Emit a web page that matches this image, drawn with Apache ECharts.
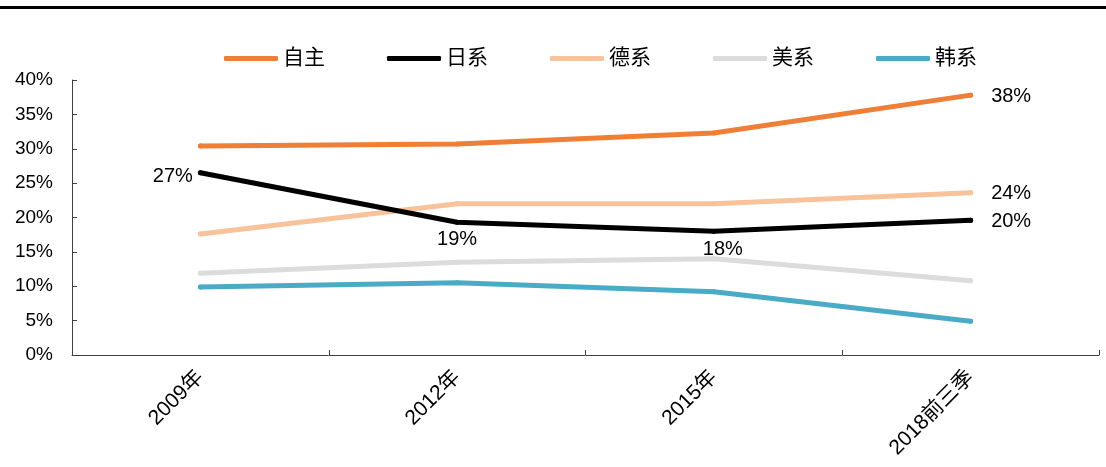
<!DOCTYPE html>
<html>
<head>
<meta charset="utf-8">
<script src="https://cdn.jsdelivr.net/npm/echarts@6/dist/echarts.min.js"></script>
<style>
  html, body { margin: 0; padding: 0; background: #fff; }
  #chart { width: 1106px; height: 467px; }
</style>
</head>
<body>
<div id="chart"></div>
<script>
// Market share by brand origin (%)
const categories = ['2009年', '2012年', '2015年', '2018前三季'];
const seriesNames = ['自主', '日系', '德系', '美系', '韩系'];
const domestic = [30.4, 30.7, 32.3, 37.8];
const japanese = [26.5, 19.3, 18.0, 19.6];
const german   = [17.6, 22.0, 22.0, 23.6];
const american = [11.9, 13.5, 14.0, 10.8];
const korean   = [9.9, 10.5, 9.2, 4.9];
const yTicks = { min: 0, max: 40, interval: 5 };

const FONT = "'Liberation Sans', 'Noto Sans CJK SC', sans-serif";
const colors = ['#EF7E36', '#000000', '#F8C29A', '#DCDCDC', '#4AABC6'];

// Per-point label placement: index -> label options
function withLabels(values, placements) {
  return values.map((v, i) => {
    const p = placements[i];
    if (!p) return { value: v, label: { show: false } };
    return {
      value: v,
      label: Object.assign({
        show: true,
        color: '#000',
        fontSize: 20,
        fontFamily: FONT,
        formatter: (d) => Math.round(d.value) + '%'
      }, p)
    };
  });
}

const seriesValues = [
  withLabels(domestic, { 3: { position: 'right', distance: 18, offset: [0, 1] } }),
  withLabels(japanese, {
    0: { position: 'left', distance: 5, offset: [0, 4] },
    1: { position: 'bottom', distance: 5 },
    2: { position: 'bottom', distance: 6, offset: [9, 0] },
    3: { position: 'right', distance: 18, offset: [0, 1] }
  }),
  withLabels(german, { 3: { position: 'right', distance: 18, offset: [0, 1] } }),
  withLabels(american, {}),
  withLabels(korean, {})
];

const chart = echarts.init(document.getElementById('chart'), null, { renderer: 'canvas' });

chart.setOption({
  animation: false,
  backgroundColor: '#fff',
  textStyle: { fontFamily: FONT },
  graphic: [
    { type: 'rect', left: 0, top: 6, shape: { width: 1106, height: 3 }, style: { fill: '#000' } }
  ],
  legend: {
    top: 43,
    left: 219,
    itemGap: 62,
    itemWidth: 54,
    itemHeight: 5,
    icon: 'roundRect',
    textStyle: { fontSize: 21, color: '#000', fontFamily: FONT },
    data: seriesNames
  },
  grid: { left: 72, right: 7, top: 80, bottom: 112, containLabel: false },
  xAxis: {
    type: 'category',
    data: categories,
    boundaryGap: true,
    axisLine: { lineStyle: { color: '#404040', width: 1 } },
    axisTick: { show: true, inside: true, length: 5, lineStyle: { color: '#404040' } },
    axisLabel: { rotate: 45, fontSize: 21, color: '#000', margin: 19, fontFamily: FONT },
    splitLine: { show: false }
  },
  yAxis: {
    type: 'value',
    min: yTicks.min,
    max: yTicks.max,
    interval: yTicks.interval,
    axisLine: { show: true, lineStyle: { color: '#404040', width: 1 } },
    axisTick: { show: true, inside: true, length: 5, lineStyle: { color: '#404040' } },
    axisLabel: { formatter: '{value}%', fontSize: 19, color: '#000', margin: 19, fontFamily: FONT },
    splitLine: { show: false }
  },
  series: seriesNames.map((name, i) => ({
    name: name,
    type: 'line',
    data: seriesValues[i],
    symbol: 'circle',
    symbolSize: 5,
    itemStyle: { color: colors[i] },
    lineStyle: { color: colors[i], width: 5, cap: 'round', join: 'round' },
    z: 10 - i
  }))
});
</script>
</body>
</html>
